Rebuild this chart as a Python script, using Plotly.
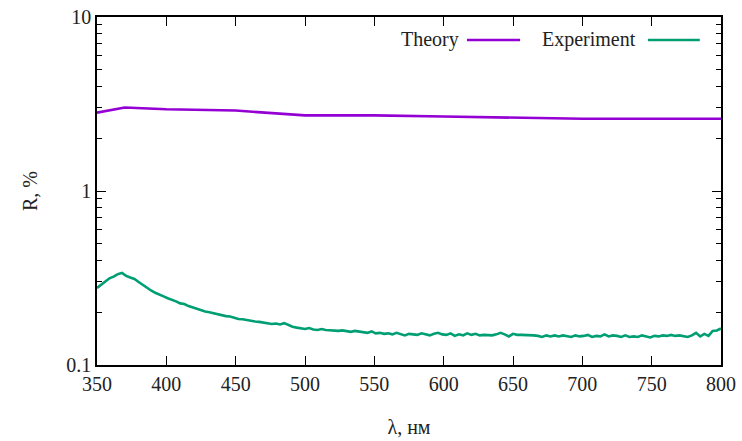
import plotly.graph_objects as go

# Theory curve (wavelength nm, R %)
theory_wl = [350, 370, 400, 450, 500, 550, 600, 650, 700, 750, 800]
theory_r = [2.82, 3.02, 2.95, 2.90, 2.72, 2.72, 2.68, 2.63, 2.60, 2.60, 2.60]

# Experiment curve, sampled every 3 nm from 350 to 800
exp_wl = list(range(350, 801, 3))
exp_r = [
    0.277, 0.290, 0.303, 0.315, 0.322, 0.333, 0.338, 0.325, 0.318, 0.312,
    0.300, 0.288, 0.278, 0.268, 0.260, 0.255, 0.248, 0.242, 0.238, 0.232,
    0.226, 0.224, 0.218, 0.214, 0.211, 0.206, 0.203, 0.201, 0.198, 0.196,
    0.193, 0.191, 0.190, 0.187, 0.184, 0.183, 0.181, 0.179, 0.178, 0.177,
    0.175, 0.174, 0.172, 0.173, 0.171, 0.174, 0.170, 0.166, 0.164, 0.162,
    0.161, 0.163, 0.160, 0.159, 0.161, 0.159, 0.158, 0.158, 0.157, 0.158,
    0.156, 0.155, 0.157, 0.156, 0.154, 0.153, 0.156, 0.152, 0.153, 0.151,
    0.152, 0.150, 0.153, 0.151, 0.148, 0.151, 0.150, 0.149, 0.152, 0.150,
    0.148, 0.151, 0.153, 0.150, 0.149, 0.152, 0.147, 0.150, 0.148, 0.152,
    0.149, 0.151, 0.148, 0.149, 0.149, 0.148, 0.150, 0.153, 0.150, 0.146,
    0.151, 0.149, 0.149, 0.149, 0.148, 0.148, 0.147, 0.145, 0.148, 0.146,
    0.148, 0.146, 0.148, 0.147, 0.145, 0.148, 0.146, 0.147, 0.149, 0.145,
    0.147, 0.146, 0.150, 0.146, 0.148, 0.147, 0.145, 0.148, 0.145, 0.146,
    0.145, 0.148, 0.146, 0.144, 0.147, 0.146, 0.148, 0.147, 0.149, 0.147,
    0.148, 0.146, 0.145, 0.148, 0.153, 0.146, 0.151, 0.147, 0.157, 0.158,
    0.162,
]

x_ticks = [350, 400, 450, 500, 550, 600, 650, 700, 750, 800]
y_ticks = [0.1, 1, 10]
y_tick_labels = ["0.1", "1", "10"]
series_names = ["Theory", "Experiment"]
colors = ["#9400D3", "#009E73"]

FONT = "Liberation Serif, Times New Roman, serif"
FS = 20

fig = go.Figure()
fig.add_trace(go.Scatter(x=theory_wl, y=theory_r, mode="lines", name=series_names[0],
                         line=dict(color=colors[0], width=2.6)))
fig.add_trace(go.Scatter(x=exp_wl, y=exp_r, mode="lines", name=series_names[1],
                         line=dict(color=colors[1], width=2.6)))

minor_vals = [m * 10 ** e for e in (-1, 0) for m in range(2, 10)]

fig.update_layout(
    width=742, height=441,
    margin=dict(l=97, r=21, t=17, b=76, autoexpand=False),
    paper_bgcolor="white", plot_bgcolor="white",
    showlegend=False,
    font=dict(family=FONT, size=FS, color="#222"),
    xaxis=dict(
        range=[350, 800], tickvals=x_ticks, ticks="inside", ticklen=9,
        tickwidth=1.3, tickcolor="black", showline=True, linecolor="black",
        linewidth=1.5, mirror="allticks", showgrid=False, zeroline=False,
        automargin=False,
        title=dict(text="λ, нм", standoff=26, font=dict(size=FS)),
    ),
    yaxis=dict(
        type="log", range=[-1, 1], tickvals=y_ticks, ticktext=y_tick_labels,
        ticks="inside", ticklen=9, tickwidth=1.3, tickcolor="black",
        showline=True, linecolor="black", linewidth=1.5, mirror="allticks",
        showgrid=False, zeroline=False, automargin=False,
        minor=dict(tickvals=minor_vals, ticks="inside", ticklen=5,
                   tickcolor="black", tickwidth=1.3, showgrid=False),
        title=dict(text="R, %", standoff=23, font=dict(size=FS)),
    ),
)

# gnuplot-style key: text (right-aligned) then line sample
key_items = [(series_names[0], colors[0], 0.583, 0.593, 0.678),
             (series_names[1], colors[1], 0.867, 0.883, 0.966)]
for name, col, tx, lx0, lx1 in key_items:
    fig.add_annotation(xref="paper", yref="paper", x=tx, y=0.934, text=name,
                       showarrow=False, xanchor="right", yanchor="middle",
                       font=dict(family=FONT, size=FS, color="#222"))
    fig.add_shape(type="line", xref="paper", yref="paper", x0=lx0, x1=lx1,
                  y0=0.934, y1=0.934, line=dict(color=col, width=2.6))

fig.write_html("out.html", config={"displayModeBar": False},
               post_script="document.body.style.margin='0';document.body.style.overflow='hidden';")
